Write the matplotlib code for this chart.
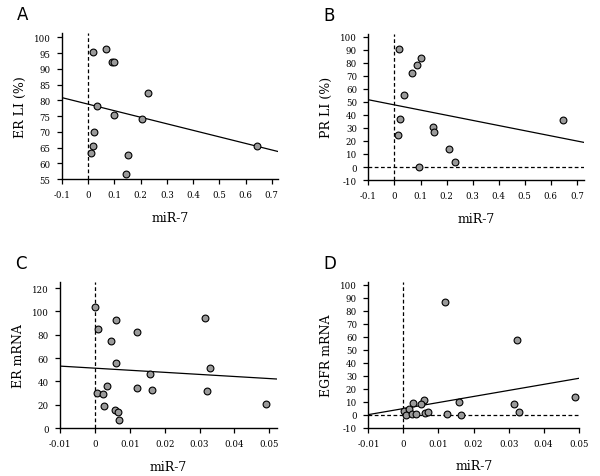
import numpy as np
import matplotlib
matplotlib.use("Agg")
import matplotlib.pyplot as plt
from matplotlib.ticker import FuncFormatter

plt.rcParams["font.family"] = "DejaVu Serif"
plt.rcParams["axes.unicode_minus"] = False

# panel A: miR-7 vs ER LI (%)
a_x = [0.020, 0.068, 0.090, 0.097, 0.230, 0.035, 0.100, 0.205, 0.023, 0.020, 0.011, 0.152, 0.145, 0.645]
a_y = [95.3, 96.2, 92.3, 92.3, 82.2, 78.2, 75.3, 74.2, 70.1, 65.5, 63.2, 62.6, 56.6, 65.5]
a_fit = (-20.8, 78.8)

# panel B: miR-7 vs PR LI (%)
b_x = [0.019, 0.102, 0.086, 0.066, 0.036, 0.022, 0.013, 0.148, 0.153, 0.208, 0.233, 0.095, 0.645]
b_y = [90.8, 83.4, 78.5, 72.4, 55.0, 36.6, 24.3, 30.9, 26.8, 13.8, 3.6, 0.0, 36.3]
b_fit = (-39.6, 47.7)

# panel C: miR-7 vs ER mRNA
c_x = [0.0000, 0.0010, 0.0061, 0.0120, 0.0316, 0.0047, 0.0060, 0.0157, 0.0330, 0.0034,
       0.0121, 0.0165, 0.0321, 0.0005, 0.0022, 0.0025, 0.0059, 0.0065, 0.0070, 0.0492]
c_y = [103.4, 84.9, 92.9, 82.3, 94.0, 74.3, 55.4, 46.3, 51.4, 35.7,
       34.0, 32.3, 31.4, 29.7, 29.4, 19.1, 15.1, 13.7, 6.6, 20.9]
c_fit = (-178.0, 51.3)

# panel D: miR-7 vs EGFR mRNA
d_x = [0.0120, 0.0323, 0.0490, 0.0316, 0.0331, 0.0158, 0.0165, 0.0123, 0.0060, 0.0050,
       0.0027, 0.0003, 0.0015, 0.0008, 0.0025, 0.0037, 0.0062, 0.0071]
d_y = [86.4, 57.7, 13.6, 8.0, 2.3, 9.8, -0.3, 0.8, 11.3, 8.2,
       9.0, 2.6, 4.2, 0.0, 0.5, 0.8, 1.1, 2.1]
d_fit = (465.0, 4.7)


def fmt(v, pos):
    s = "%g" % round(v, 4)
    return s


def panel(rect, letter, x, y, fit, xlim, ylim, xticks, yticks, ylabel, hline):
    ax = fig.add_axes(rect)
    ax.axvline(0, color="black", ls=(0, (3, 2)), lw=0.9, zorder=1)
    if hline:
        ax.axhline(0, color="black", ls=(0, (3, 2)), lw=0.9, zorder=1)
    xs = np.array(xlim)
    ax.plot(xs, fit[0] * xs + fit[1], color="black", lw=0.9, zorder=2)
    ax.scatter(x, y, s=24, facecolor="#9a9a9a", edgecolor="black", linewidth=0.8, zorder=3)
    ax.set_xlim(xlim)
    ax.set_ylim(ylim)
    ax.set_xticks(xticks)
    ax.set_yticks(yticks)
    ax.xaxis.set_major_formatter(FuncFormatter(fmt))
    ax.yaxis.set_major_formatter(FuncFormatter(fmt))
    for s in ["top", "right"]:
        ax.spines[s].set_visible(False)
    for s in ["left", "bottom"]:
        ax.spines[s].set_linewidth(1.0)
    ax.tick_params(direction="out", length=3.6, width=0.9, labelsize=6.2, pad=4.6)
    ax.set_xlabel("miR-7", fontsize=9, labelpad=8)
    ax.set_ylabel(ylabel, fontsize=9, labelpad=5)
    fig.text(rect[0] - 0.075, rect[1] + rect[3] + 0.04, letter, fontsize=12,
             family="DejaVu Sans", va="center", ha="left")
    return ax


fig = plt.figure(figsize=(6, 4.77), dpi=100)

panel([0.103, 0.6226, 0.360, 0.3054], "A", a_x, a_y, a_fit, (-0.1, 0.723), (55, 101.3),
      np.arange(-0.1, 0.71, 0.1), np.arange(55, 101, 5), "ER LI (%)", False)
panel([0.614, 0.6205, 0.360, 0.3065], "B", b_x, b_y, b_fit, (-0.1, 0.729), (-10, 102.3),
      np.arange(-0.1, 0.71, 0.1), np.arange(-10, 101, 10), "PR LI (%)", True)
panel([0.100, 0.1006, 0.361, 0.3054], "C", c_x, c_y, c_fit, (-0.01, 0.0521), (0, 124.9),
      np.arange(-0.01, 0.051, 0.01), np.arange(0, 121, 20), "ER mRNA", False)
panel([0.614, 0.1013, 0.3516, 0.3060], "D", d_x, d_y, d_fit, (-0.01, 0.0502), (-10, 102.3),
      np.arange(-0.01, 0.051, 0.01), np.arange(-10, 101, 10), "EGFR mRNA", True)

fig.savefig("out.png", dpi=100)
